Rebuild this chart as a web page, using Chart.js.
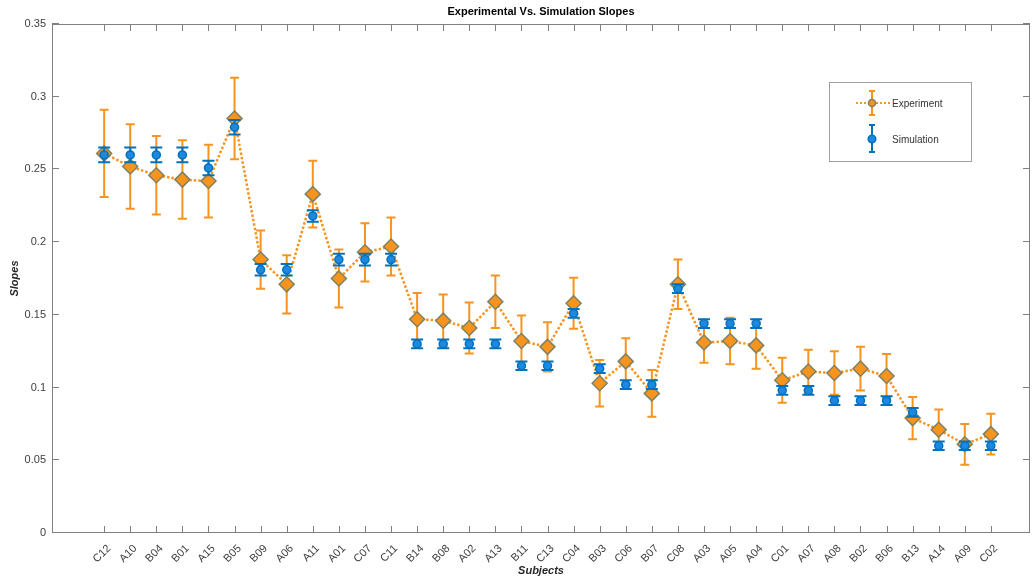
<!DOCTYPE html>
<html>
<head>
<meta charset="utf-8">
<title>Experimental Vs. Simulation Slopes</title>
<script src="https://cdn.jsdelivr.net/npm/chart.js@4.4.1/dist/chart.umd.min.js"></script>
<style>
  html, body { margin: 0; padding: 0; background: #fff; }
  #wrap { width: 1034px; height: 579px; }
</style>
</head>
<body>
<div id="wrap"><canvas id="slopeChart" width="1034" height="579"></canvas></div>
<script>
// data
const subjects = ['C12','A10','B04','B01','A15','B05','B09','A06','A11','A01','C07','C11','B14','B08','A02','A13','B11','C13',
  'C04','B03','C06','B07','C08','A03','A05','A04','C01','A07','A08','B02','B06','B13','A14','A09','C02'];

const expSlope = [0.261,0.252,0.246,0.243,0.242,0.285,0.188,0.171,0.233,0.175,0.193,0.197,0.147,0.146,0.141,0.159,0.132,0.128,
  0.158,0.103,0.118,0.096,0.171,0.131,0.132,0.129,0.105,0.111,0.110,0.113,0.108,0.079,0.071,0.061,0.068];
const expErr = [0.030,0.029,0.027,0.027,0.025,0.028,0.020,0.020,0.023,0.020,0.020,0.020,0.018,0.018,0.0175,0.018,0.0175,0.017,
  0.0175,0.016,0.016,0.016,0.017,0.014,0.016,0.016,0.0155,0.015,0.015,0.015,0.015,0.0145,0.014,0.014,0.014];

const simSlope = [0.260,0.260,0.260,0.260,0.251,0.279,0.181,0.181,0.218,0.188,0.188,0.188,0.130,0.130,0.130,0.130,0.115,0.115,
  0.151,0.113,0.102,0.102,0.168,0.144,0.144,0.144,0.098,0.098,0.091,0.091,0.091,0.083,0.060,0.060,0.060];
const simErr = [0.005,0.005,0.005,0.005,0.005,0.005,0.004,0.004,0.004,0.004,0.004,0.004,0.003,0.003,0.003,0.003,0.003,0.003,
  0.003,0.003,0.003,0.003,0.003,0.003,0.003,0.003,0.003,0.003,0.003,0.003,0.003,0.003,0.003,0.003,0.003];

const yTicks = [0, 0.05, 0.1, 0.15, 0.2, 0.25, 0.3, 0.35];

const FONT = "'Liberation Sans', Arial, Helvetica, sans-serif";
const ORANGE = '#F7941E';
const BLUE = '#0072BD';
const AXIS = '#808080';

// error bars, drawn under each dataset's own markers
const errorBars = {
  id: 'errorBars',
  beforeDatasetDraw(chart, args) {
    const ds = chart.data.datasets[args.index];
    if (!ds.errors) return;
    const ctx = chart.ctx, xs = chart.scales.x, ys = chart.scales.y;
    ctx.save();
    ctx.strokeStyle = ds.errorColor;
    ctx.lineWidth = 2;
    ds.data.forEach((p, i) => {
      const px = xs.getPixelForValue(p.x);
      const top = ys.getPixelForValue(p.y + ds.errors[i]);
      const bot = ys.getPixelForValue(p.y - ds.errors[i]);
      ctx.beginPath();
      ctx.moveTo(px, top); ctx.lineTo(px, bot);
      ctx.moveTo(px - ds.capHalf, top); ctx.lineTo(px + ds.capHalf, top);
      ctx.moveTo(px - ds.capHalf, bot); ctx.lineTo(px + ds.capHalf, bot);
      ctx.stroke();
    });
    ctx.restore();
  }
};

// matlab style box, inward ticks, titles and legend
const frame = {
  id: 'frame',
  afterDraw(chart) {
    const ctx = chart.ctx, a = chart.chartArea;
    const xs = chart.scales.x, ys = chart.scales.y;
    ctx.save();
    ctx.strokeStyle = AXIS;
    ctx.lineWidth = 1;
    ctx.strokeRect(a.left + 0.5, a.top + 0.5, a.right - a.left - 1, a.bottom - a.top - 1);
    ctx.beginPath();
    xs.ticks.forEach(t => {
      const px = Math.round(xs.getPixelForValue(t.value)) + 0.5;
      ctx.moveTo(px, a.bottom); ctx.lineTo(px, a.bottom - 7);
      ctx.moveTo(px, a.top); ctx.lineTo(px, a.top + 7);
    });
    ys.ticks.forEach(t => {
      const py = Math.round(ys.getPixelForValue(t.value)) - 0.5;
      ctx.moveTo(a.left, py); ctx.lineTo(a.left + 7, py);
      ctx.moveTo(a.right, py); ctx.lineTo(a.right - 7, py);
    });
    ctx.stroke();

    // titles
    ctx.fillStyle = '#000';
    ctx.textAlign = 'center';
    ctx.textBaseline = 'middle';
    ctx.font = 'bold 11px ' + FONT;
    ctx.fillText('Experimental Vs. Simulation Slopes', (a.left + a.right) / 2, 12);
    ctx.fillStyle = '#262626';
    ctx.font = 'italic bold 11px ' + FONT;
    ctx.fillText('Subjects', (a.left + a.right) / 2, 571);
    ctx.save();
    ctx.translate(15, (a.top + a.bottom) / 2);
    ctx.rotate(-Math.PI / 2);
    ctx.fillText('Slopes', 0, 0);
    ctx.restore();

    // legend box
    const lx = 829, ly = 82, lw = 142, lh = 79;
    ctx.fillStyle = '#fff';
    ctx.fillRect(lx, ly, lw, lh);
    ctx.strokeStyle = '#a0a0a0';
    ctx.strokeRect(lx + 0.5, ly + 0.5, lw, lh);

    const mx = 872;
    // experiment entry
    ctx.strokeStyle = ORANGE;
    ctx.lineWidth = 2;
    ctx.setLineDash([2, 2]);
    ctx.beginPath(); ctx.moveTo(856, 103); ctx.lineTo(890, 103); ctx.stroke();
    ctx.setLineDash([]);
    ctx.beginPath();
    ctx.moveTo(mx, 91); ctx.lineTo(mx, 115);
    ctx.moveTo(mx - 3, 91); ctx.lineTo(mx + 3, 91);
    ctx.moveTo(mx - 3, 115); ctx.lineTo(mx + 3, 115);
    ctx.stroke();
    ctx.fillStyle = ORANGE;
    ctx.strokeStyle = '#7E8263';
    ctx.lineWidth = 1.5;
    ctx.beginPath(); ctx.arc(mx, 103, 3.5, 0, Math.PI * 2); ctx.fill(); ctx.stroke();

    // simulation entry
    ctx.strokeStyle = BLUE;
    ctx.lineWidth = 2;
    ctx.beginPath();
    ctx.moveTo(mx, 125); ctx.lineTo(mx, 152);
    ctx.moveTo(mx - 3, 125); ctx.lineTo(mx + 3, 125);
    ctx.moveTo(mx - 3, 152); ctx.lineTo(mx + 3, 152);
    ctx.stroke();
    ctx.fillStyle = '#1E88E0';
    ctx.lineWidth = 1.5;
    ctx.beginPath(); ctx.arc(mx, 139, 3.8, 0, Math.PI * 2); ctx.fill(); ctx.stroke();

    ctx.fillStyle = '#333';
    ctx.font = '10px ' + FONT;
    ctx.textAlign = 'left';
    ctx.fillText('Experiment', 892, 104);
    ctx.fillText('Simulation', 892, 140);
    ctx.restore();
  }
};

function setupChart() {
  const ctx = document.getElementById('slopeChart').getContext('2d');
  new Chart(ctx, {
    type: 'line',
    data: {
      datasets: [{
        label: 'Experiment',
        data: expSlope.map((v, i) => ({ x: i + 1, y: v })),
        errors: expErr,
        errorColor: ORANGE,
        capHalf: 4.5,
        order: 2,
        borderColor: ORANGE,
        borderWidth: 2.5,
        borderDash: [2.5, 2],
        tension: 0,
        fill: false,
        pointStyle: 'rectRot',
        pointRadius: 7.5,
        pointBackgroundColor: ORANGE,
        pointBorderColor: '#7E8263',
        pointBorderWidth: 1.5
      }, {
        label: 'Simulation',
        data: simSlope.map((v, i) => ({ x: i + 1, y: v })),
        errors: simErr,
        errorColor: BLUE,
        capHalf: 6,
        order: 1,
        showLine: false,
        pointStyle: 'circle',
        pointRadius: 4,
        pointBackgroundColor: '#1E88E0',
        pointBorderColor: BLUE,
        pointBorderWidth: 1.5
      }]
    },
    options: {
      responsive: false,
      animation: false,
      layout: { autoPadding: false, padding: { top: 24, right: 4, left: 0, bottom: 0 } },
      plugins: {
        legend: { display: false },
        tooltip: { enabled: false },
        title: { display: false }
      },
      scales: {
        x: {
          type: 'linear',
          min: -1,
          max: 36.5,
          grid: { display: false, drawTicks: false },
          border: { display: false },
          afterFit: s => { s.height = 46; s.paddingLeft = 0; s.paddingRight = 0; },
          afterBuildTicks: s => { s.ticks = subjects.map((c, i) => ({ value: i + 1 })); },
          ticks: {
            autoSkip: false,
            minRotation: 45,
            maxRotation: 45,
            padding: 9,
            labelOffset: 5,
            color: '#404040',
            font: { family: FONT, size: 11 },
            callback: v => subjects[v - 1]
          }
        },
        y: {
          min: 0,
          max: 0.35,
          grid: { display: false, drawTicks: false },
          border: { display: false },
          afterFit: s => { s.width = 52; s.paddingTop = 0; s.paddingBottom = 0; },
          afterBuildTicks: s => { s.ticks = yTicks.map(v => ({ value: v })); },
          ticks: {
            padding: 6,
            color: '#404040',
            font: { family: FONT, size: 11 },
            callback: v => String(+v.toFixed(2))
          }
        }
      }
    },
    plugins: [errorBars, frame]
  });
}

window.onload = setupChart;
</script>
</body>
</html>
